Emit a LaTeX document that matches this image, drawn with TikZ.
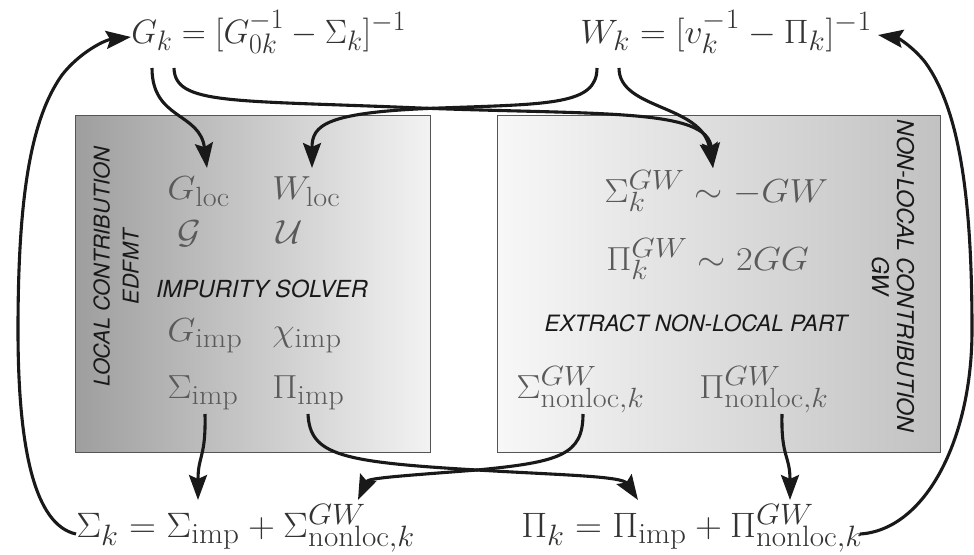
\documentclass[tikz,border=0pt]{standalone}
\usepackage{fontspec}
\newfontfamily\hv{TeX Gyre Heros}
\usetikzlibrary{arrows.meta,calc}
\definecolor{mathtop}{HTML}{333333}
\definecolor{mathbox}{HTML}{5A5A5A}
\definecolor{boxedge}{HTML}{555555}
\tikzset{
  topmath/.style={inner sep=0pt,text=mathtop,font=\Huge,xscale=1.38,yscale=1.36},
  botmath/.style={inner sep=0pt,text=mathtop,font=\Huge,xscale=1.50,yscale=1.42},
  boxmath/.style={inner sep=0pt,text=mathbox,font=\Huge,xscale=1.46,yscale=1.34},
  label sans/.style={inner sep=0pt,text=black!90,font=\hv\itshape\fontsize{22.5}{25}\selectfont},
  arr/.style={line width=3.1pt,draw=black!90,-{Stealth[length=25pt,width=18pt,inset=4pt]}},
}
\begin{document}
\begin{tikzpicture}[x=1pt,y=-1pt]
\useasboundingbox (0,0) rectangle (974,554);
% boxes
\shade[left color=black!38,right color=black!5] (75,115) rectangle (430,452);
\draw[boxedge,line width=0.8pt] (75,115) rectangle (430,452);
\shade[left color=black!3,right color=black!24] (497,115) rectangle (940,452);
\draw[boxedge,line width=0.8pt] (497,115) rectangle (940,452);
% top formulas
\node[topmath,xscale=0.97,anchor=base west] (Gk) at (131,43) {$G_k = [G_{0k}^{-1} - \Sigma_k]^{-1}$};
\node[topmath,xscale=1.04,anchor=base west] (Wk) at (580,43) {$W_k = [v_k^{-1} - \Pi_k]^{-1}$};
% left box content
\node[boxmath,anchor=base west] (Gloc) at (167,199) {$G_{\mathrm{loc}}$};
\node[boxmath,anchor=base west] (Wloc) at (272,199) {$W_{\mathrm{loc}}$};
\node[boxmath,anchor=base west] (calG) at (177,243) {$\mathcal{G}$};
\node[boxmath,anchor=base west] (calU) at (276,243) {$\mathcal{U}$};
\node[label sans,font=\hv\itshape\fontsize{23.5}{26}\selectfont] (imps) at (262,289) {IMPURITY SOLVER};
\node[boxmath,anchor=base west] (Gimp) at (167,341) {$G_{\mathrm{imp}}$};
\node[boxmath,anchor=base west] (chiimp) at (272,341) {$\chi_{\mathrm{imp}}$};
\node[boxmath,anchor=base west] (Sigimp) at (167,398) {$\Sigma_{\mathrm{imp}}$};
\node[boxmath,anchor=base west] (Piimp) at (272,398) {$\Pi_{\mathrm{imp}}$};
\node[label sans,font=\hv\itshape\fontsize{21.7}{29}\selectfont,rotate=90,align=center] (loclab) at (116,267) {LOCAL CONTRIBUTION\\EDFMT};
% right box content
\node[boxmath,anchor=base west] (SigGW) at (604,202) {$\Sigma_k^{GW} \sim -GW$};
\node[boxmath,anchor=base west] (PiGW) at (606,270) {$\Pi_k^{GW} \sim 2GG$};
\node[label sans] (extr) at (696,323) {EXTRACT NON-LOCAL PART};
\node[boxmath,anchor=base west] (SigNL) at (516,398) {$\Sigma^{GW}_{\mathrm{nonloc},k}$};
\node[boxmath,anchor=base west] (PiNL) at (699,398) {$\Pi^{GW}_{\mathrm{nonloc},k}$};
\node[label sans,font=\hv\itshape\fontsize{23}{25}\selectfont,rotate=-90,align=center] (nllab) at (893,276) {NON-LOCAL CONTRIBUTION\\GW};
% bottom formulas
\node[botmath,anchor=base west] (Sigk) at (76,537) {$\Sigma_k = \Sigma_{\mathrm{imp}} + \Sigma^{GW}_{\mathrm{nonloc},k}$};
\node[botmath,anchor=base west] (Pik) at (521,537) {$\Pi_k = \Pi_{\mathrm{imp}} + \Pi^{GW}_{\mathrm{nonloc},k}$};
% connector end points
\coordinate (gA) at (152,68);
\coordinate (gB) at (174,68);
\coordinate (wA) at (597,68);
\coordinate (wB) at (619,68);
\coordinate (tGloc) at (207,168);
\coordinate (tWloc) at (312,168);
\coordinate (tSGW) at (713,168);
\coordinate (sSimp) at (205,414);
\coordinate (sPimp) at (308,414);
\coordinate (sSNL) at (583,414);
\coordinate (sPNL) at (782,414);
\coordinate (tSk1) at (198,500);
\coordinate (tSk2) at (358,500);
\coordinate (tPk1) at (638,500);
\coordinate (tPk2) at (790,500);
\coordinate (sSk) at (76,534);
\coordinate (tGk) at (131,37);
\coordinate (sPk) at (860,534);
\coordinate (tWk) at (878,35);
% top arrows
\draw[arr] (gA) .. controls (152,120) and (200,112) .. (tGloc);
\draw[arr] (gB) .. controls (175,105) and (230,100) .. (420,108) .. controls (600,115) and (708,108) .. (tSGW);
\draw[arr] (wA) .. controls (597,105) and (550,104) .. (440,108) .. controls (325,112) and (312,125) .. (tWloc);
\draw[arr] (wB) .. controls (619,110) and (702,104) .. (tSGW);
% bottom arrows
\draw[arr] (sSimp) .. controls (206,458) and (198,455) .. (tSk1);
\draw[arr] (sPimp) .. controls (310,455) and (340,462) .. (477,470) .. controls (560,475) and (622,476) .. (tPk1);
\draw[arr] (sSNL) .. controls (583,455) and (560,462) .. (477,470) .. controls (400,476) and (368,478) .. (tSk2);
\draw[arr] (sPNL) .. controls (781,458) and (790,455) .. (tPk2);
% outer arcs
\draw[arr] (sSk) .. controls (35,525) and (18,450) .. (18,330) .. controls (18,200) and (30,120) .. (62,75) .. controls (80,52) and (105,40) .. (tGk);
\draw[arr] (sPk) .. controls (925,530) and (972,440) .. (972,330) .. controls (972,200) and (960,110) .. (925,62) .. controls (912,46) and (898,38) .. (tWk);
\end{tikzpicture}
\end{document}
